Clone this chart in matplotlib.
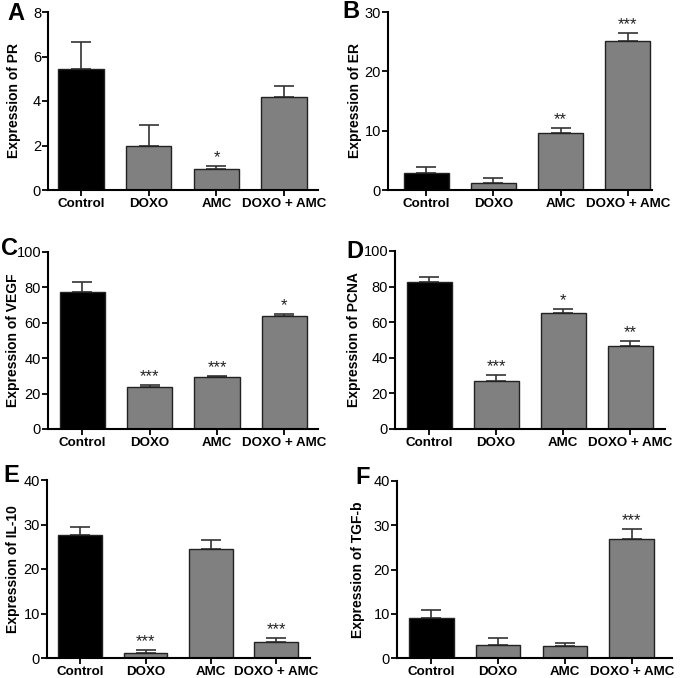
import matplotlib
matplotlib.use("Agg")
import matplotlib.pyplot as plt
import numpy as np

plt.rcParams['font.family'] = ['Liberation Sans', 'DejaVu Sans']

groups = ['Control', 'DOXO', 'AMC', 'DOXO + AMC']

pr_mean = [5.42, 1.97, 0.93, 4.18]
pr_err = [1.25, 0.96, 0.15, 0.51]
pr_sig = ['', '', '*', '']

er_mean = [2.8, 1.24, 9.55, 25.1]
er_err = [1.0, 0.73, 0.85, 1.3]
er_sig = ['', '', '**', '***']

vegf_mean = [77.4, 23.9, 29.1, 63.7]
vegf_err = [5.7, 0.7, 1.0, 1.5]
vegf_sig = ['', '***', '***', '*']

pcna_mean = [82.8, 27.1, 64.9, 46.9]
pcna_err = [2.6, 3.2, 2.6, 2.3]
pcna_sig = ['', '***', '*', '**']

il10_mean = [27.6, 1.05, 24.5, 3.7]
il10_err = [1.9, 0.75, 2.1, 0.9]
il10_sig = ['', '***', '', '***']

tgfb_mean = [9.0, 3.0, 2.7, 27.0]
tgfb_err = [1.8, 1.6, 0.7, 2.2]
tgfb_sig = ['', '', '', '***']

bar_colors = ['black', '#808080', '#808080', '#808080']

W, H = 685, 678
fig = plt.figure(figsize=(W / 100, H / 100), dpi=100)

# letter, ylabel, data..., ymax, ystep, axes box px (l, t, r, b), xlim, letter pos px, ylabel x px
panels = [
    ('A', 'Expression of PR', pr_mean, pr_err, pr_sig, 8, 2, (48, 12, 318, 190), (-0.49, 3.5), (7, 13), 21),
    ('B', 'Expression of ER', er_mean, er_err, er_sig, 30, 10, (388, 12, 652, 190), (-0.57, 3.36), (342, 11), 362),
    ('C', 'Expression of VEGF', vegf_mean, vegf_err, vegf_sig, 100, 20, (48, 252, 318, 429), (-0.51, 3.5), (1, 248), 20),
    ('D', 'Expression of PCNA', pcna_mean, pcna_err, pcna_sig, 100, 20, (395, 251, 665, 429), (-0.51, 3.52), (346, 252), 361),
    ('E', 'Expression of IL-10', il10_mean, il10_err, il10_sig, 40, 10, (47, 480, 310, 658), (-0.51, 3.52), (3, 476), 20),
    ('F', 'Expression of TGF-b', tgfb_mean, tgfb_err, tgfb_sig, 40, 10, (397, 481, 672, 658), (-0.51, 3.6), (355, 477), 365),
]

for letter, ylabel, mean, err, sig, ymax, ystep, box, xlim, lpos, labx in panels:
    l, t, r, b = box
    ax = fig.add_axes([l / W, 1 - b / H, (r - l) / W, (b - t) / H])
    x = np.arange(len(groups))
    ax.bar(x, mean, width=0.67, color=bar_colors, edgecolor='#222222', linewidth=1.0, zorder=2)
    ax.errorbar(x, mean, yerr=[np.zeros(len(err)), err], fmt='none', ecolor='#333333',
                elinewidth=1.2, capsize=7, capthick=1.2, zorder=1)
    for xi, m, e, s in zip(x, mean, err, sig):
        if s:
            ax.text(xi, m + e + ymax * 0.005, s, ha='center', va='bottom', fontsize=12, color='#222222')
    ax.set_xlim(*xlim)
    ax.set_ylim(0, ymax)
    ax.set_yticks(np.arange(0, ymax + ystep / 2, ystep))
    ax.set_xticks(x)
    ax.set_xticklabels(groups, fontweight='bold', fontsize=9.6)
    ax.tick_params(axis='y', labelsize=10.5, width=1.3, length=4, pad=1)
    ax.tick_params(axis='x', width=1.3, length=4.5, pad=1.5)
    ax.set_ylabel(ylabel, fontweight='bold', fontsize=10)
    ax.yaxis.set_label_coords((labx - l) / (r - l), 0.5)
    for sp in ['top', 'right']:
        ax.spines[sp].set_visible(False)
    for sp in ['left', 'bottom']:
        ax.spines[sp].set_linewidth(1.5)
    fig.text(lpos[0] / W, 1 - lpos[1] / H, letter, fontsize=17, fontweight='bold', va='center', ha='left')

fig.savefig('out.png', dpi=100)
